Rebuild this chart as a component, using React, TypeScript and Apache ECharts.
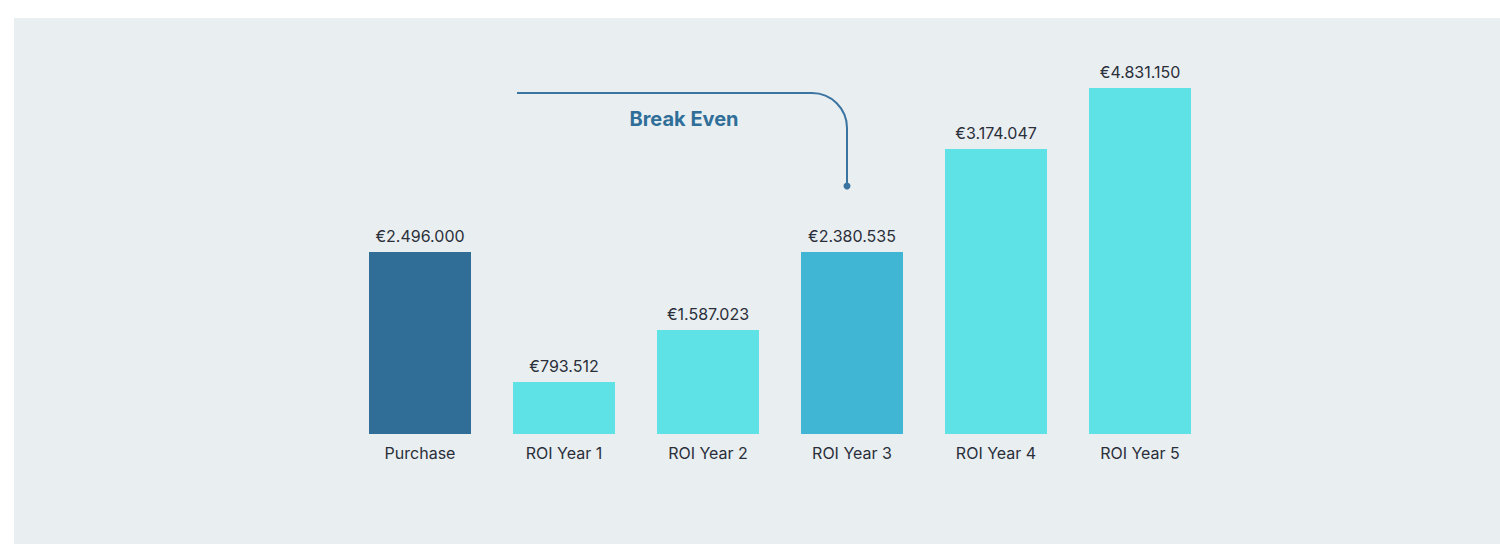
import React, { useEffect, useRef } from "react";
import * as echarts from "echarts";

const categories = ["Purchase", "ROI Year 1", "ROI Year 2", "ROI Year 3", "ROI Year 4", "ROI Year 5"];
// Amounts shown in the value labels (EUR)
const labelValues = [2496000, 793512, 1587023, 2380535, 3174047, 4831150];
// Drawn bar heights (the reference is not drawn to scale), in chart units
const barHeights = [182, 52, 104, 182, 285, 346];
const barColors = ["#306E98", "#5EE2E6", "#5EE2E6", "#40B6D4", "#5EE2E6", "#5EE2E6"];
const annotationText = "Break Even";

const fmt = (v: number) => "€" + v.toString().replace(/\B(?=(\d{3})+(?!\d))/g, ".");

export default function App() {
  const ref = useRef<HTMLDivElement>(null);
  useEffect(() => {
    document.body.style.margin = "0";
    const chart = echarts.init(ref.current!, null, { renderer: "svg" });
    const lineColor = "#3B74A0";
    chart.setOption({
      animation: false,
      backgroundColor: "#FFFFFF",
      grid: { left: 348, right: 288, top: 34, bottom: 125, containLabel: false },
      xAxis: {
        type: "category",
        data: categories,
        axisLine: { show: false },
        axisTick: { show: false },
        axisLabel: {
          margin: 11,
          fontFamily: "Inter",
          fontSize: 16,
          color: "#2A2F3A",
        },
      },
      yAxis: { type: "value", min: 0, max: 400, show: false, splitLine: { show: false } },
      graphic: [
        {
          type: "rect",
          z: -10,
          silent: true,
          shape: { x: 14, y: 18, width: 1486, height: 526 },
          style: { fill: "#E9EEF1" },
        },
        {
          type: "line",
          shape: { x1: 517, y1: 93, x2: 812, y2: 93 },
          style: { stroke: lineColor, lineWidth: 2 },
        },
        {
          type: "arc",
          shape: { cx: 812, cy: 128, r: 35, startAngle: -Math.PI / 2, endAngle: 0, clockwise: true },
          style: { stroke: lineColor, lineWidth: 2, fill: "none" },
        },
        {
          type: "line",
          shape: { x1: 847, y1: 128, x2: 847, y2: 186 },
          style: { stroke: lineColor, lineWidth: 2 },
        },
        {
          type: "circle",
          shape: { cx: 847, cy: 186, r: 3.5 },
          style: { fill: lineColor },
        },
        {
          type: "text",
          x: 684,
          y: 119,
          style: {
            text: annotationText,
            fontFamily: "Inter",
            fontWeight: "bold",
            fontSize: 20,
            fill: "#2F6E98",
            align: "center",
            verticalAlign: "middle",
          },
        },
      ],
      series: [
        {
          type: "bar",
          barWidth: 102,
          data: barHeights.map((h, i) => ({ value: h, itemStyle: { color: barColors[i] } })),
          label: {
            show: true,
            position: "top",
            distance: 8,
            fontFamily: "Inter",
            fontSize: 16,
            color: "#2A2F3A",
            formatter: (p: any) => fmt(labelValues[p.dataIndex]),
          },
        },
      ],
    });
    return () => chart.dispose();
  }, []);
  return <div ref={ref} style={{ width: 1500, height: 559 }} />;
}
